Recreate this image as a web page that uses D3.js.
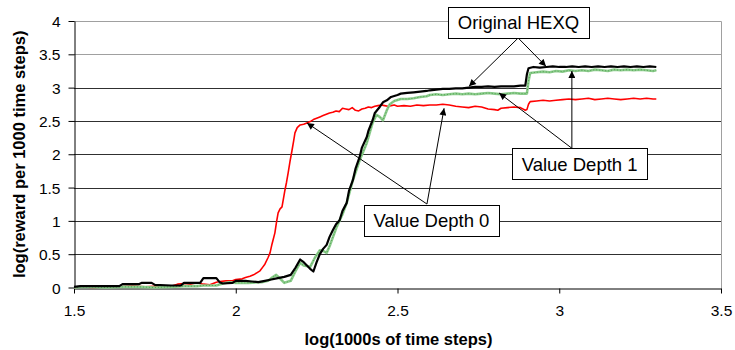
<!DOCTYPE html>
<html><head><meta charset="utf-8">
<script src="https://cdn.jsdelivr.net/npm/d3@7"></script>
<style>
html,body{margin:0;padding:0;background:#fff;}
svg{display:block;font-family:"Liberation Sans",Arial,sans-serif;}
</style></head>
<body><svg id="c" width="735" height="350"></svg>
<script>
// ---------- data ----------
const xTicks = [1.5, 2, 2.5, 3, 3.5];
const xTickLabels = ["1.5", "2", "2.5", "3", "3.5"];
const yTicks = [0, 0.5, 1, 1.5, 2, 2.5, 3, 3.5, 4];
const yTickLabels = ["0", "0.5", "1", "1.5", "2", "2.5", "3", "3.5", "4"];
const xTitle = "log(1000s of time steps)";
const yTitle = "log(reward per 1000 time steps)";

// Value Depth 0 (red)
const redX = [1.50,1.52,1.56,1.60,1.64,1.68,1.72,1.76,1.80,1.82,1.84,1.86,1.88,1.90,1.92,1.94,1.95,1.97,1.99,2.00,2.02,2.03,2.044,2.055,2.065,2.075,2.084,2.09,2.10,2.106,2.112,2.121,2.126,2.131,2.137,2.143,2.148,2.152,2.157,2.162,2.168,2.174,2.179,2.183,2.19,2.199,2.21,2.22,2.23,2.24,2.25,2.26,2.27,2.28,2.29,2.30,2.31,2.32,2.33,2.34,2.35,2.36,2.37,2.38,2.39,2.40,2.41,2.42,2.43,2.44,2.45,2.46,2.47,2.48,2.49,2.50,2.52,2.54,2.56,2.58,2.60,2.62,2.64,2.66,2.68,2.70,2.72,2.74,2.76,2.78,2.80,2.81,2.82,2.84,2.86,2.88,2.895,2.90,2.905,2.91,2.93,2.95,2.97,2.99,3.01,3.03,3.05,3.07,3.09,3.11,3.13,3.15,3.17,3.19,3.21,3.23,3.25,3.27,3.29,3.30];
const redY = [0.00,0.01,0.00,0.01,0.01,0.02,0.01,0.02,0.02,0.05,0.06,0.05,0.07,0.05,0.04,0.08,0.09,0.10,0.10,0.12,0.13,0.15,0.17,0.19,0.22,0.25,0.31,0.35,0.45,0.52,0.65,0.82,0.98,1.12,1.18,1.21,1.35,1.46,1.58,1.72,1.90,2.06,2.20,2.32,2.40,2.44,2.45,2.47,2.49,2.52,2.54,2.56,2.58,2.60,2.62,2.63,2.65,2.64,2.69,2.68,2.67,2.70,2.66,2.65,2.68,2.69,2.71,2.70,2.72,2.73,2.74,2.73,2.72,2.73,2.74,2.72,2.73,2.72,2.74,2.73,2.74,2.74,2.75,2.74,2.72,2.71,2.70,2.72,2.71,2.68,2.67,2.66,2.69,2.70,2.71,2.70,2.66,2.67,2.75,2.79,2.80,2.81,2.80,2.81,2.82,2.83,2.82,2.83,2.84,2.82,2.83,2.84,2.83,2.82,2.83,2.84,2.83,2.84,2.83,2.83];

// Original HEXQ (black)
const blackX = [1.50,1.52,1.56,1.60,1.64,1.65,1.70,1.71,1.74,1.75,1.80,1.83,1.84,1.89,1.90,1.94,1.95,1.96,1.99,2.00,2.03,2.05,2.07,2.09,2.11,2.13,2.15,2.17,2.185,2.199,2.21,2.22,2.23,2.24,2.25,2.26,2.27,2.281,2.29,2.30,2.31,2.321,2.33,2.343,2.35,2.362,2.37,2.383,2.39,2.405,2.41,2.423,2.43,2.445,2.455,2.467,2.48,2.50,2.51,2.53,2.55,2.57,2.59,2.60,2.62,2.64,2.66,2.68,2.70,2.72,2.74,2.76,2.78,2.80,2.82,2.84,2.86,2.88,2.895,2.90,2.905,2.92,2.94,2.96,2.98,3.00,3.02,3.04,3.06,3.08,3.10,3.12,3.14,3.16,3.18,3.20,3.22,3.24,3.26,3.28,3.30];
const blackY = [0.01,0.02,0.02,0.02,0.02,0.05,0.05,0.07,0.07,0.04,0.03,0.03,0.07,0.07,0.14,0.14,0.08,0.06,0.07,0.10,0.10,0.09,0.08,0.10,0.12,0.14,0.16,0.19,0.30,0.42,0.38,0.33,0.28,0.24,0.38,0.50,0.58,0.64,0.76,0.86,0.95,1.01,1.15,1.27,1.45,1.61,1.78,1.96,2.10,2.26,2.35,2.51,2.62,2.71,2.78,2.81,2.86,2.89,2.91,2.92,2.93,2.94,2.95,2.96,2.97,2.98,2.98,2.99,2.99,3.00,3.01,3.01,3.02,3.01,3.02,3.02,3.02,3.03,3.03,3.20,3.29,3.31,3.30,3.31,3.32,3.31,3.31,3.32,3.31,3.32,3.31,3.32,3.31,3.32,3.31,3.32,3.31,3.32,3.31,3.32,3.31];

// Value Depth 1 (green)
const greenX = [1.50,1.52,1.55,1.60,1.65,1.70,1.75,1.80,1.84,1.88,1.90,1.94,1.96,1.98,2.00,2.04,2.08,2.10,2.11,2.125,2.14,2.15,2.17,2.185,2.199,2.21,2.23,2.245,2.26,2.27,2.281,2.29,2.312,2.33,2.343,2.362,2.383,2.405,2.423,2.435,2.445,2.455,2.467,2.476,2.49,2.51,2.53,2.55,2.57,2.59,2.60,2.62,2.64,2.66,2.68,2.70,2.72,2.74,2.76,2.78,2.80,2.82,2.84,2.86,2.88,2.90,2.905,2.91,2.93,2.95,2.97,2.99,3.01,3.03,3.05,3.07,3.09,3.11,3.13,3.15,3.17,3.19,3.21,3.23,3.25,3.27,3.29,3.30];
const greenY = [0.00,0.01,0.01,0.00,0.01,0.01,0.00,0.01,0.02,0.02,0.03,0.03,0.06,0.08,0.07,0.07,0.08,0.10,0.14,0.19,0.12,0.07,0.10,0.25,0.37,0.33,0.31,0.45,0.56,0.55,0.52,0.62,0.91,1.10,1.27,1.61,1.91,2.17,2.47,2.59,2.56,2.51,2.66,2.75,2.80,2.83,2.83,2.84,2.86,2.87,2.89,2.90,2.89,2.90,2.91,2.90,2.91,2.90,2.91,2.92,2.91,2.90,2.91,2.92,2.91,2.91,3.10,3.22,3.23,3.24,3.23,3.25,3.24,3.26,3.25,3.26,3.25,3.27,3.26,3.25,3.27,3.26,3.27,3.26,3.27,3.26,3.25,3.26];

// callouts (data coordinates)
const calloutLabels = ["Original HEXQ", "Value Depth 1", "Value Depth 0"];
const calloutCenterX = [2.874, 3.063, 2.605];
const calloutCenterY = [3.98, 1.854, 1.006];
const calloutFromX = [2.873, 3.039, 2.591];
const calloutFromY = [3.745, 2.09, 1.253];
const calloutTargetsX = [[2.721, 2.959], [2.814, 3.039], [2.220, 2.644]];
const calloutTargetsY = [[3.02, 3.32], [2.92, 3.25], [2.47, 2.69]];

// ---------- drawing ----------
(function draw() {
const svg = d3.select("#c");
const mLeft = 74, mRight = 721, mTop = 21, mBottom = 287.5;
const x = d3.scaleLinear().domain([1.5, 3.5]).range([mLeft, mRight]);
const y = d3.scaleLinear().domain([0, 4]).range([mBottom, mTop]);
const crisp = v => Math.round(v) + 0.5;

// gridlines
svg.append("g").selectAll("line").data(yTicks.filter(v => v > 0)).join("line")
  .attr("x1", mLeft).attr("x2", crisp(mRight))
  .attr("y1", d => crisp(y(d))).attr("y2", d => crisp(y(d)))
  .attr("stroke", d => d >= 3.5 ? "#a0a0a0" : "#303030").attr("stroke-width", 1);
// right border
svg.append("line").attr("x1", crisp(mRight)).attr("x2", crisp(mRight))
  .attr("y1", crisp(y(4))).attr("y2", crisp(y(0))).attr("stroke", "#a0a0a0");

// axes
const yAxis = svg.append("g").attr("transform", `translate(${crisp(mLeft)},0)`)
  .call(d3.axisLeft(y).tickValues(yTicks).tickFormat((d, i) => yTickLabels[i]).tickSize(6).tickSizeOuter(0));
const xAxis = svg.append("g").attr("transform", `translate(0,${crisp(y(0))})`)
  .call(d3.axisBottom(x).tickValues(xTicks).tickFormat((d, i) => xTickLabels[i]).tickSize(5).tickSizeOuter(0));
[yAxis, xAxis].forEach(g => {
  g.select(".domain").attr("stroke", "#000");
  g.selectAll(".tick line").attr("stroke", "#000");
  g.selectAll("text").attr("font-family", "Liberation Sans, Arial, sans-serif")
    .attr("font-size", 15.5).attr("fill", "#000");
});
yAxis.selectAll("text").attr("x", -14).attr("dy", "0.36em");
xAxis.selectAll("text").attr("y", 16).attr("dy", "0.71em");

// titles
svg.append("text").attr("x", (mLeft + mRight) / 2 + 1).attr("y", 345)
  .attr("text-anchor", "middle").attr("font-weight", "bold").attr("font-size", 16.5).text(xTitle);
svg.append("text").attr("transform", `translate(25,${(mTop + mBottom) / 2}) rotate(-90)`)
  .attr("text-anchor", "middle").attr("font-weight", "bold").attr("font-size", 16.5).text(yTitle);

// series
const line = d3.line().x(d => x(d[0])).y(d => y(d[1]));
const zipS = (xs, ys) => xs.map((v, i) => [v, ys[i]]);
svg.append("path").datum(zipS(redX, redY)).attr("d", line)
  .attr("fill", "none").attr("stroke", "#ff0000").attr("stroke-width", 1.6).attr("stroke-linejoin", "round");
svg.append("path").datum(zipS(greenX, greenY)).attr("d", line)
  .attr("fill", "none").attr("stroke", "#8ccc8c").attr("stroke-width", 2.6).attr("stroke-linejoin", "round");
svg.append("path").datum(zipS(greenX, greenY)).attr("d", line)
  .attr("fill", "none").attr("stroke", "#4f9f4f").attr("stroke-width", 1).attr("stroke-dasharray", "1,2");
svg.append("path").datum(zipS(blackX, blackY)).attr("d", line)
  .attr("fill", "none").attr("stroke", "#000").attr("stroke-width", 2.2).attr("stroke-linejoin", "round");

// arrow marker
svg.append("defs").append("marker").attr("id", "arr")
  .attr("viewBox", "0 0 10 10").attr("refX", 10).attr("refY", 5)
  .attr("markerWidth", 9).attr("markerHeight", 7).attr("markerUnits", "userSpaceOnUse")
  .attr("orient", "auto").append("path").attr("d", "M0,0 L10,5 L0,10 z").attr("fill", "#000");

// callouts
const boxW = [141, 135, 135];
calloutLabels.forEach((lab, i) => {
  const fx = x(calloutFromX[i]), fy = y(calloutFromY[i]);
  calloutTargetsX[i].forEach((tx, j) => {
    svg.append("line").attr("x1", fx).attr("y1", fy)
      .attr("x2", x(tx)).attr("y2", y(calloutTargetsY[i][j]))
      .attr("stroke", "#000").attr("stroke-width", 1).attr("marker-end", "url(#arr)");
  });
  const cx = x(calloutCenterX[i]), cy = y(calloutCenterY[i]);
  const g = svg.append("g");
  g.append("text").attr("x", cx).attr("y", cy).attr("dy", "0.36em")
    .attr("text-anchor", "middle").attr("font-size", 18.5).text(lab);
  const w = boxW[i], h = 31;
  g.insert("rect", "text").attr("x", crisp(cx - w / 2)).attr("y", crisp(cy - h / 2))
    .attr("width", w).attr("height", h).attr("fill", "#fff").attr("stroke", "#000");
});
})();
</script></body></html>
